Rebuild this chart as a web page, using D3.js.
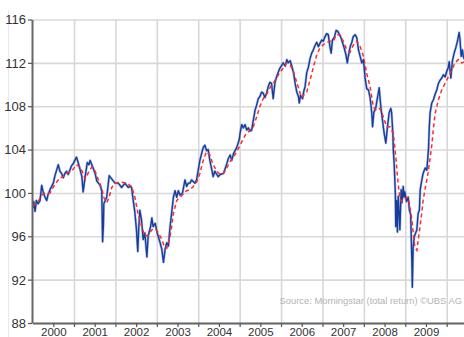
<!DOCTYPE html>
<html>
<head>
<meta charset="utf-8">
<script src="https://cdn.jsdelivr.net/npm/d3@7"></script>
<style>
  html, body { margin: 0; padding: 0; background: #fff; }
  svg { display: block; }
  .tick text { font-family: "Liberation Sans Narrow", "Arial Narrow", "Liberation Sans", Arial, sans-serif; fill: #333; }
</style>
</head>
<body>
<svg id="chart" width="464" height="337"></svg>
<script>
// Index level (total return), decimal years
const indexDates = [
  2000.01, 2000.03, 2000.06, 2000.09, 2000.13, 2000.18, 2000.22, 2000.26, 2000.30, 2000.34,
  2000.37, 2000.42, 2000.50, 2000.54, 2000.58, 2000.62, 2000.66, 2000.70, 2000.74, 2000.78,
  2000.82, 2000.86, 2000.90, 2000.94, 2000.98, 2001.02, 2001.06, 2001.10, 2001.13, 2001.19,
  2001.22, 2001.27, 2001.32, 2001.36, 2001.39, 2001.43, 2001.47, 2001.51, 2001.55, 2001.59,
  2001.63, 2001.67, 2001.69, 2001.71, 2001.72, 2001.79, 2001.85, 2001.91, 2001.99, 2002.07,
  2002.15, 2002.23, 2002.31, 2002.35, 2002.39, 2002.43, 2002.47, 2002.51, 2002.54, 2002.56,
  2002.59, 2002.63, 2002.67, 2002.71, 2002.76, 2002.79, 2002.85, 2002.88, 2002.91, 2002.96,
  2003.01, 2003.08, 2003.12, 2003.16, 2003.20, 2003.24, 2003.28, 2003.32, 2003.36, 2003.40,
  2003.44, 2003.48, 2003.52, 2003.56, 2003.62, 2003.68, 2003.72, 2003.76, 2003.80, 2003.84,
  2003.92, 2003.96, 2004.00, 2004.04, 2004.08, 2004.12, 2004.16, 2004.20, 2004.24, 2004.28,
  2004.33, 2004.36, 2004.40, 2004.45, 2004.48, 2004.53, 2004.61, 2004.69, 2004.73, 2004.77,
  2004.81, 2004.85, 2004.93, 2004.99, 2005.01, 2005.05, 2005.09, 2005.13, 2005.17, 2005.21,
  2005.25, 2005.29, 2005.33, 2005.37, 2005.41, 2005.45, 2005.49, 2005.53, 2005.57, 2005.61,
  2005.65, 2005.69, 2005.73, 2005.77, 2005.81, 2005.85, 2005.89, 2005.93, 2005.97, 2006.02,
  2006.05, 2006.10, 2006.14, 2006.17, 2006.22, 2006.26, 2006.30, 2006.34, 2006.38, 2006.42,
  2006.44, 2006.47, 2006.52, 2006.55, 2006.58, 2006.62, 2006.66, 2006.70, 2006.74, 2006.78,
  2006.82, 2006.86, 2006.90, 2006.94, 2006.98, 2007.02, 2007.06, 2007.10, 2007.14, 2007.18,
  2007.21, 2007.24, 2007.29, 2007.33, 2007.37, 2007.41, 2007.44, 2007.49, 2007.53, 2007.57,
  2007.60, 2007.62, 2007.67, 2007.71, 2007.74, 2007.79, 2007.83, 2007.87, 2007.91, 2007.95,
  2007.99, 2008.03, 2008.07, 2008.11, 2008.15, 2008.19, 2008.21, 2008.24, 2008.29, 2008.32,
  2008.37, 2008.41, 2008.45, 2008.49, 2008.53, 2008.57, 2008.61, 2008.65, 2008.67, 2008.70,
  2008.71, 2008.73, 2008.76, 2008.77, 2008.79, 2008.81, 2008.83, 2008.86, 2008.87, 2008.90,
  2008.92, 2008.95, 2008.97, 2008.99, 2009.03, 2009.07, 2009.10, 2009.13, 2009.16, 2009.17,
  2009.19, 2009.22, 2009.24, 2009.28, 2009.31, 2009.34, 2009.36, 2009.40, 2009.43, 2009.48,
  2009.52, 2009.56, 2009.58, 2009.60, 2009.64, 2009.68, 2009.72, 2009.76, 2009.80, 2009.84,
  2009.88, 2009.92, 2009.96, 2010.00, 2010.04, 2010.06, 2010.10, 2010.14, 2010.18, 2010.22,
  2010.26, 2010.30, 2010.32, 2010.35, 2010.38, 2010.40, 2010.43
];
const indexValues = [
  98.6, 99.2, 98.3, 99.3, 99.0, 99.3, 100.7, 100.0, 99.6, 99.3,
  99.8, 100.3, 100.9, 101.6, 102.1, 102.6, 102.0, 101.8, 101.4, 101.8,
  102.0, 101.7, 102.1, 102.5, 102.7, 103.0, 103.3, 102.8, 102.4, 101.5,
  100.1, 101.5, 102.8, 102.6, 103.0, 102.6, 102.2, 101.8, 101.1, 100.9,
  100.7, 100.2, 95.5, 97.0, 99.0, 99.6, 101.6, 101.3, 100.9, 100.9,
  100.5, 100.9, 100.5, 100.6, 100.5, 99.3, 98.2, 96.5, 94.6, 96.5,
  98.4, 97.5, 95.7, 96.3, 94.1, 96.0, 96.9, 97.7, 96.9, 97.2,
  96.3, 95.4, 94.8, 93.6, 94.8, 95.4, 95.1, 96.9, 98.2, 99.6,
  100.2, 99.6, 100.2, 99.8, 100.0, 101.2, 100.6, 100.9, 100.9, 101.2,
  100.9, 101.2, 102.1, 103.0, 103.6, 104.2, 104.4, 103.9, 104.0, 103.0,
  102.1, 101.5, 102.0, 101.7, 101.5, 101.7, 101.8, 102.7, 103.2, 103.5,
  103.0, 103.6, 104.2, 104.9, 105.5, 106.3, 106.0, 106.3, 105.8, 106.0,
  105.7, 105.8, 106.7, 107.6, 108.1, 108.7, 108.9, 109.3, 109.2, 108.8,
  109.2, 109.8, 110.2, 110.1, 108.7, 110.1, 110.7, 111.1, 111.5, 111.8,
  112.0, 111.7, 112.3, 112.0, 112.2, 111.7, 111.1, 110.1, 109.3, 108.9,
  108.3, 109.0, 108.7, 109.4, 109.8, 111.1, 111.6, 112.4, 112.9, 113.2,
  113.6, 113.9, 113.5, 113.8, 114.1, 114.0, 114.4, 114.7, 114.6, 113.5,
  112.9, 114.1, 114.4, 115.0, 114.9, 114.6, 114.4, 113.8, 113.3, 112.7,
  112.0, 112.5, 113.5, 113.9, 114.4, 114.6, 114.3, 113.2, 112.6, 112.0,
  112.3, 110.6, 109.6, 109.5, 108.8, 107.4, 106.1, 107.4, 107.9, 108.6,
  109.7, 107.9, 106.7, 105.5, 104.6, 106.1, 107.4, 107.8, 107.4, 105.5,
  104.0, 102.8, 100.0, 96.9, 99.3, 96.4, 99.7, 97.5, 96.6, 100.3,
  99.1, 100.6, 99.6, 100.1, 99.2, 99.6, 98.4, 98.0, 93.5, 91.3,
  95.0, 96.0, 96.2, 96.6, 98.1, 98.4, 100.3, 101.2, 101.8, 102.3,
  102.1, 104.0, 106.1, 107.4, 108.3, 108.6, 109.1, 109.5, 110.1, 110.4,
  110.6, 110.9, 110.7, 111.2, 111.6, 112.1, 110.6, 112.2, 112.9, 113.4,
  114.0, 114.8, 114.2, 112.6, 113.2, 112.6, 112.3
];

// Moving average of the index, decimal years
const avgDates = [
  2000.01, 2000.08, 2000.13, 2000.22, 2000.30, 2000.42, 2000.54, 2000.66, 2000.74, 2000.82,
  2000.94, 2001.06, 2001.14, 2001.22, 2001.27, 2001.35, 2001.43, 2001.51, 2001.59, 2001.67,
  2001.72, 2001.79, 2001.85, 2001.91, 2001.99, 2002.11, 2002.27, 2002.39, 2002.47, 2002.55,
  2002.63, 2002.71, 2002.79, 2002.88, 2002.96, 2003.04, 2003.12, 2003.20, 2003.24, 2003.28,
  2003.32, 2003.36, 2003.40, 2003.44, 2003.48, 2003.56, 2003.64, 2003.72, 2003.80, 2003.88,
  2003.96, 2004.04, 2004.12, 2004.20, 2004.28, 2004.36, 2004.45, 2004.53, 2004.61, 2004.69,
  2004.77, 2004.85, 2004.93, 2005.01, 2005.13, 2005.25, 2005.33, 2005.41, 2005.49, 2005.57,
  2005.65, 2005.73, 2005.81, 2005.89, 2005.97, 2006.05, 2006.14, 2006.22, 2006.30, 2006.38,
  2006.46, 2006.50, 2006.54, 2006.62, 2006.70, 2006.78, 2006.86, 2006.94, 2007.06, 2007.18,
  2007.26, 2007.34, 2007.42, 2007.50, 2007.59, 2007.67, 2007.74, 2007.83, 2007.91, 2007.99,
  2008.07, 2008.15, 2008.23, 2008.31, 2008.39, 2008.47, 2008.55, 2008.63, 2008.71, 2008.78,
  2008.81, 2008.86, 2008.91, 2008.99, 2009.07, 2009.11, 2009.15, 2009.19, 2009.23, 2009.28,
  2009.31, 2009.36, 2009.40, 2009.43, 2009.48, 2009.52, 2009.56, 2009.60, 2009.64, 2009.68,
  2009.72, 2009.80, 2009.88, 2009.96, 2010.04, 2010.12, 2010.20, 2010.28, 2010.36, 2010.43
];
const avgValues = [
  98.8, 99.0, 99.2, 99.8, 100.0, 100.0, 100.8, 101.4, 101.5, 101.8,
  102.0, 102.6, 102.4, 101.8, 101.3, 101.9, 102.4, 102.0, 101.2, 100.4,
  99.6, 99.1, 99.6, 100.5, 100.9, 101.0, 100.9, 100.6, 99.6, 98.0,
  97.0, 96.0, 96.1, 96.6, 96.7, 96.3, 95.7, 94.9, 94.9, 95.4,
  96.0, 96.9, 98.1, 98.7, 99.3, 99.6, 99.9, 100.2, 100.3, 100.6,
  101.0, 101.8, 103.0, 103.8, 103.5, 102.6, 102.0, 101.7, 101.8, 102.3,
  102.9, 103.3, 103.8, 104.4, 105.3, 105.8, 106.1, 107.0, 108.0, 108.7,
  109.1, 109.7, 110.1, 110.6, 111.1, 111.5, 112.0, 111.8, 111.2, 110.2,
  109.2, 108.8, 109.0, 109.3, 110.4, 111.6, 112.7, 113.4, 113.8, 114.0,
  114.0, 114.6, 114.6, 114.0, 113.2, 113.0, 113.6, 114.0, 113.5, 112.6,
  111.0, 109.8, 107.9, 107.6, 107.8, 107.0, 106.1, 106.1, 105.5, 103.0,
  101.5, 99.8, 99.2, 99.5, 99.6, 98.7, 97.8, 96.4, 95.0, 94.7,
  95.6, 97.0, 98.2, 99.3, 100.4, 101.2, 102.1, 103.2, 104.4, 106.0,
  107.3, 108.6, 109.5, 110.1, 110.7, 111.3, 112.0, 112.3, 112.0, 112.1
];

const yTicks = [88, 92, 96, 100, 104, 108, 112, 116];
const yearStarts = [2000, 2001, 2002, 2003, 2004, 2005, 2006, 2007, 2008, 2009, 2010];
const yearLabels = ["2000", "2001", "2002", "2003", "2004", "2005", "2006", "2007", "2008", "2009"];
const sourceNote = "Source: Morningstar (total return) \u00A9UBS AG";

const svg = d3.select("#chart");
const W = 464, H = 337;
const plot = { left: 32, top: 19.5, right: 464, bottom: 323 };

const x = d3.scaleLinear().domain([2000, 2010.43]).range([32.6, 464.5]);
const y = d3.scaleLinear().domain([88, 116]).range([plot.bottom, plot.top]);

// faint outer frame line on the left
svg.append("line")
  .attr("x1", 8.5).attr("x2", 8.5).attr("y1", 10).attr("y2", H)
  .attr("stroke", "#e3e9f1").attr("stroke-width", 1);

// horizontal gridlines
svg.append("g")
  .attr("transform", `translate(${plot.left},0)`)
  .call(d3.axisRight(y).tickValues(yTicks).tickSize(plot.right - plot.left).tickFormat(""))
  .call(g => g.select(".domain").remove())
  .call(g => g.selectAll(".tick line").attr("stroke", "#d8d8d8").attr("stroke-width", 1.6));

// vertical gridlines at the start of each year
svg.append("g")
  .attr("transform", `translate(0,${plot.top})`)
  .call(d3.axisBottom(x).tickValues(yearStarts.slice(1)).tickSize(plot.bottom - plot.top).tickFormat(""))
  .call(g => g.select(".domain").remove())
  .call(g => g.selectAll(".tick line").attr("stroke", "#d8d8d8").attr("stroke-width", 1.6));

// series
svg.append("clipPath").attr("id", "plotclip")
  .append("rect")
  .attr("x", plot.left + 1).attr("y", 0)
  .attr("width", plot.right - plot.left).attr("height", plot.bottom);

const indexLine = d3.line()
  .x((d, i) => x(indexDates[i]))
  .y(d => y(d));
const avgLine = d3.line()
  .x((d, i) => x(avgDates[i]))
  .y(d => y(d));

const series = svg.append("g").attr("clip-path", "url(#plotclip)");
series.append("path")
  .datum(indexValues)
  .attr("d", indexLine)
  .attr("fill", "none")
  .attr("stroke", "#7d97cf")
  .attr("stroke-width", 2.6)
  .attr("stroke-opacity", 0.55)
  .attr("stroke-linejoin", "round");
series.append("path")
  .datum(indexValues)
  .attr("d", indexLine)
  .attr("fill", "none")
  .attr("stroke", "#173d9c")
  .attr("stroke-width", 1.4)
  .attr("stroke-linejoin", "round");
series.append("path")
  .datum(avgValues)
  .attr("d", avgLine)
  .attr("fill", "none")
  .attr("stroke", "#ff2b2b")
  .attr("stroke-width", 1.5)
  .attr("stroke-dasharray", "4,3");

// y axis
svg.append("g")
  .attr("transform", `translate(${plot.left},0)`)
  .call(d3.axisLeft(y).tickValues(yTicks).tickSize(4).tickSizeOuter(0).tickPadding(2))
  .call(g => g.select(".domain").attr("stroke", "#666").attr("stroke-width", 2))
  .call(g => g.selectAll(".tick line").attr("stroke", "#555").attr("stroke-width", 1.2))
  .call(g => g.selectAll(".tick text").attr("font-size", 13).attr("dy", "0.34em"));

// x axis: tick marks every half year
const halfYears = d3.range(0, 21).map(i => 2000 + i / 2).filter(v => v > 2000);
svg.append("g")
  .attr("transform", `translate(0,${plot.bottom})`)
  .call(d3.axisBottom(x).tickValues(halfYears).tickSize(4).tickSizeOuter(0).tickFormat(""))
  .call(g => g.select(".domain").attr("stroke", "#666").attr("stroke-width", 2))
  .call(g => g.selectAll(".tick line").attr("stroke", "#555").attr("stroke-width", 1.2));

// year labels centred on each year, sitting on the bottom edge
svg.append("g")
  .attr("transform", `translate(0,${plot.bottom})`)
  .call(d3.axisBottom(x).tickValues(yearStarts.slice(0, -1).map(v => v + 0.5))
    .tickSize(0).tickPadding(0).tickFormat((d, i) => yearLabels[i]))
  .call(g => g.select(".domain").remove())
  .call(g => g.selectAll(".tick text").attr("font-size", 11.5).attr("dy", null).attr("y", 13.3));

// source note, kept inside the right edge
svg.append("text")
  .attr("x", 462).attr("y", 304)
  .attr("text-anchor", "end")
  .attr("font-family", "'Liberation Sans', Arial, sans-serif")
  .attr("font-size", 9.4)
  .attr("fill", "#b3b3b3")
  .text(sourceNote);
</script>
</body>
</html>
